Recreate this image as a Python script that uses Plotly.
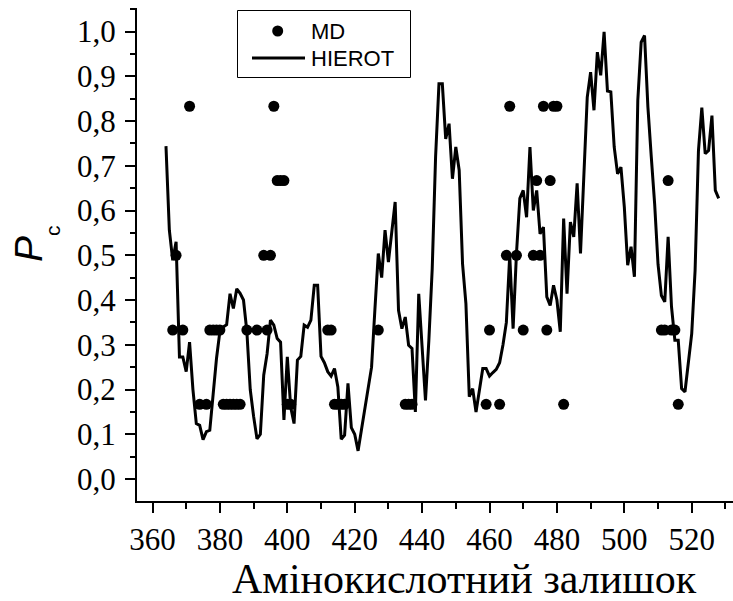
import plotly.graph_objects as go

# ---------------- data ----------------
hierot_res = list(range(364, 529))
hierot_val = [
    0.744, 0.556, 0.489, 0.530, 0.273, 0.273, 0.240, 0.306, 0.200, 0.124,   # 364-373
    0.120, 0.088, 0.106, 0.109, 0.190, 0.270, 0.330, 0.340, 0.345, 0.414,   # 374-383
    0.381, 0.425, 0.415, 0.400, 0.330, 0.200, 0.140, 0.090, 0.100, 0.232,   # 384-393
    0.280, 0.355, 0.344, 0.314, 0.306, 0.132, 0.273, 0.161, 0.124, 0.266,   # 394-403
    0.274, 0.344, 0.339, 0.355, 0.433, 0.433, 0.274, 0.260, 0.240, 0.230,   # 404-413
    0.247, 0.206, 0.089, 0.098, 0.214, 0.115, 0.100, 0.063, 0.110, 0.160,   # 414-423
    0.205, 0.250, 0.380, 0.504, 0.450, 0.556, 0.485, 0.550, 0.619, 0.377,   # 424-433
    0.336, 0.362, 0.299, 0.292, 0.150, 0.414, 0.300, 0.176, 0.310, 0.470,   # 434-443
    0.720, 0.883, 0.883, 0.760, 0.794, 0.671, 0.742, 0.690, 0.481, 0.392,   # 444-453
    0.184, 0.202, 0.150, 0.200, 0.247, 0.247, 0.230, 0.238, 0.245, 0.260,   # 454-463
    0.300, 0.350, 0.500, 0.336, 0.504, 0.627, 0.645, 0.585, 0.742, 0.600,   # 464-473
    0.645, 0.548, 0.563, 0.407, 0.388, 0.433, 0.400, 0.329, 0.582, 0.414,   # 474-483
    0.574, 0.541, 0.661, 0.504, 0.680, 0.853, 0.909, 0.824, 0.954, 0.902,   # 484-493
    0.999, 0.867, 0.865, 0.742, 0.682, 0.697, 0.608, 0.478, 0.519, 0.452,   # 494-503
    0.846, 0.976, 0.991, 0.831, 0.720, 0.615, 0.480, 0.410, 0.396, 0.541,   # 504-513
    0.385, 0.310, 0.310, 0.202, 0.195, 0.260, 0.325, 0.466, 0.734, 0.830,   # 514-523
    0.727, 0.734, 0.812, 0.645, 0.627,                                      # 524-528
]

md_res = [366, 367, 369, 371, 374, 376, 377, 378, 379, 380,
          381, 382, 383, 384, 385, 386, 388, 391, 393, 394,
          395, 396, 397, 398, 399, 400, 401, 412, 413, 414,
          415, 416, 417, 427, 435, 436, 437, 459, 460, 463,
          465, 466, 468, 470, 473, 474, 475, 476, 477, 478,
          479, 480, 482, 511, 512, 513, 514, 515, 516]
md_val = [0.333, 0.500, 0.333, 0.833, 0.167, 0.167, 0.333, 0.333, 0.333, 0.333,
          0.167, 0.167, 0.167, 0.167, 0.167, 0.167, 0.333, 0.333, 0.500, 0.333,
          0.500, 0.833, 0.667, 0.667, 0.667, 0.167, 0.167, 0.333, 0.333, 0.167,
          0.167, 0.167, 0.167, 0.333, 0.167, 0.167, 0.167, 0.167, 0.333, 0.167,
          0.500, 0.833, 0.500, 0.333, 0.500, 0.667, 0.500, 0.833, 0.333, 0.667,
          0.833, 0.833, 0.167, 0.333, 0.333, 0.667, 0.333, 0.333, 0.167]

x_title = "Амінокислотний залишок"
legend_names = ["MD", "HIEROT"]

# ---------------- layout geometry ----------------
W, H = 733, 601
ML, MR, MT, MB = 137, 0, 8, 100
PW = W - ML - MR
PH = H - MT - MB


def px(xp):
    return (xp - ML) / PW


def py(yp):
    return (H - MB - yp) / PH


fig = go.Figure()
fig.add_trace(go.Scatter(
    x=hierot_res, y=hierot_val, mode="lines", name=legend_names[1],
    line=dict(color="black", width=3), showlegend=False,
))
fig.add_trace(go.Scatter(
    x=md_res, y=md_val, mode="markers", name=legend_names[0],
    marker=dict(color="black", size=11, line=dict(width=0)), showlegend=False,
))

serif = "Liberation Serif"
sans = "Liberation Sans"

fig.update_layout(
    width=W, height=H,
    margin=dict(l=ML, r=MR, t=MT, b=MB),
    paper_bgcolor="white", plot_bgcolor="white",
    separators=",.",
    showlegend=False,
    font=dict(family=serif, color="black"),
    xaxis=dict(
        range=[355.4, 532.25], tick0=360, dtick=20,
        showline=True, linecolor="black", linewidth=2,
        ticks="outside", ticklen=10, tickwidth=2, tickcolor="black",
        minor=dict(dtick=10, ticks="outside", ticklen=6, tickwidth=2, tickcolor="black"),
        showgrid=False, zeroline=False,
        tickfont=dict(family=serif, size=31, color="black"),
    ),
    yaxis=dict(
        range=[-0.049, 1.0525], tick0=0, dtick=0.1, tickformat=".1f",
        showline=True, linecolor="black", linewidth=2,
        ticks="outside", ticklen=10, tickwidth=2, tickcolor="black",
        minor=dict(dtick=0.05, ticks="outside", ticklen=5, tickwidth=2, tickcolor="black"),
        showgrid=False, zeroline=False, ticklabelstandoff=3,
        tickfont=dict(family=serif, size=31, color="black"),
    ),
)

annotations = [
    dict(text=x_title, x=px(464), y=py(579), xref="paper", yref="paper",
         xanchor="center", yanchor="middle", showarrow=False,
         font=dict(family=serif, size=42, color="black")),
    dict(text="<i>P</i>", x=px(29), y=py(249), xref="paper", yref="paper",
         xanchor="center", yanchor="middle", showarrow=False, textangle=-90,
         font=dict(family=sans, size=39, color="black")),
    dict(text="c", x=px(52), y=py(231), xref="paper", yref="paper",
         xanchor="center", yanchor="middle", showarrow=False, textangle=-90,
         font=dict(family=sans, size=21, color="black")),
    dict(text=legend_names[0], x=px(309), y=py(31), xref="paper", yref="paper",
         xanchor="left", yanchor="middle", showarrow=False,
         font=dict(family=sans, size=22, color="black")),
    dict(text=legend_names[1], x=px(309), y=py(58), xref="paper", yref="paper",
         xanchor="left", yanchor="middle", showarrow=False,
         font=dict(family=sans, size=22, color="black")),
]

shapes = [
    dict(type="rect", xref="paper", yref="paper",
         x0=px(237.5), x1=px(410.5), y0=py(77.5), y1=py(10.5),
         line=dict(color="black", width=1), fillcolor="white", layer="above"),
    dict(type="circle", xref="paper", yref="paper",
         x0=px(272.2), x1=px(283.2), y0=py(36.5), y1=py(25.5),
         line=dict(width=0), fillcolor="black", layer="above"),
    dict(type="line", xref="paper", yref="paper",
         x0=px(252), x1=px(305), y0=py(58), y1=py(58),
         line=dict(color="black", width=3), layer="above"),
]

fig.update_layout(annotations=annotations, shapes=shapes)
fig.write_html("out.html")
